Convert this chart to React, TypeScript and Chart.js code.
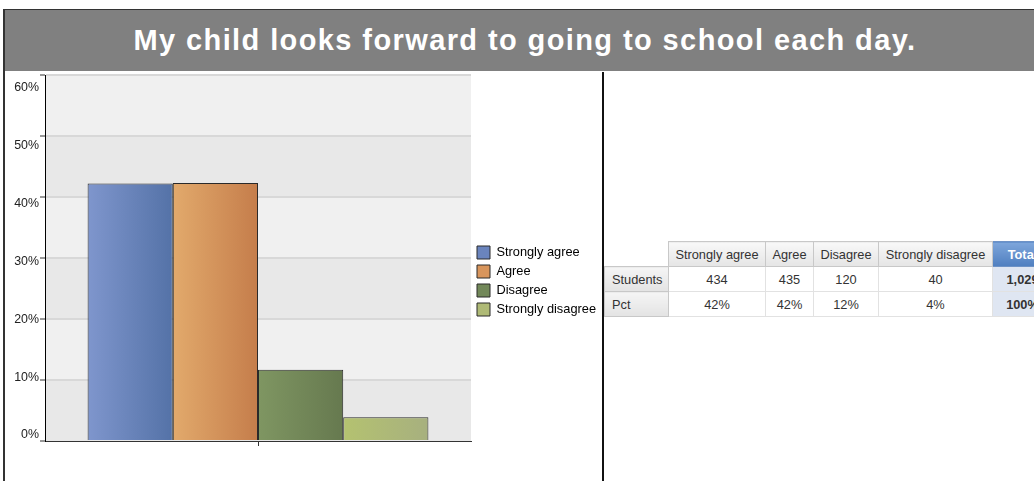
import { useEffect, useRef } from "react";
import { Chart, registerables } from "chart.js";

Chart.register(...registerables);

const title = "My child looks forward to going to school each day.";
const categories = ["Strongly agree", "Agree", "Disagree", "Strongly disagree"];
const pctValues = [42.2, 42.3, 11.7, 3.9];
const studentCounts = ["434", "435", "120", "40"];
const pctLabels = ["42%", "42%", "12%", "4%"];
const totalStudents = "1,029";
const totalPct = "100%";
const yTicks = [0, 10, 20, 30, 40, 50, 60];

// the original draws its % labels a little off the grid lines (below at the top, above at the bottom)
const labelShift = [-6, -2.8, 0.4, 3.5, 6.7, 9.8, 13];

// left / right colour of each bar's gradient, and the flat colour for the legend box
const gradientStops = [
  ["#7f96cd", "#5472a7"],
  ["#e2aa6c", "#c57d4b"],
  ["#7f9662", "#66794f"],
  ["#b4c270", "#a7b07f"],
];
const legendColors = ["#6a84bd", "#d8955c", "#728859", "#afba76"];

const FONT = "Arial, 'Liberation Sans', sans-serif";

const bandsPlugin = {
  id: "bands",
  beforeDraw(chart: any) {
    const { ctx, chartArea } = chart;
    const y = chart.scales.y;
    for (let i = 0; i < yTicks.length - 1; i++) {
      const top = y.getPixelForValue(yTicks[i + 1]);
      const bottom = y.getPixelForValue(yTicks[i]);
      ctx.fillStyle = i % 2 === 0 ? "#e8e8e8" : "#f0f0f0";
      ctx.fillRect(chartArea.left, top, chartArea.right - chartArea.left, bottom - top);
    }
  },
};

const gradientPlugin = {
  id: "barGradient",
  beforeDatasetsDraw(chart: any) {
    const ctx = chart.ctx;
    chart.data.datasets.forEach((_ds: any, di: number) => {
      const meta = chart.getDatasetMeta(di);
      meta.data.forEach((el: any) => {
        const { x, width } = el.getProps(["x", "width"], true);
        const g = ctx.createLinearGradient(x - width / 2, 0, x + width / 2, 0);
        g.addColorStop(0, gradientStops[di][0]);
        g.addColorStop(1, gradientStops[di][1]);
        el.options.backgroundColor = g;
      });
    });
  },
};

const noPadding = (s: any) => {
  s.paddingTop = 0;
  s.paddingBottom = 0;
  s.paddingLeft = 0;
  s.paddingRight = 0;
};

const shiftFor = (v: number) => {
  const k = yTicks.indexOf(v);
  return k < 0 ? 0 : labelShift[k];
};

const BarChart: React.FC = () => {
  const canvasRef = useRef<HTMLCanvasElement | null>(null);
  const chartRef = useRef<Chart | null>(null);

  useEffect(() => {
    if (!canvasRef.current) return;
    chartRef.current = new Chart(canvasRef.current, {
      type: "bar",
      data: {
        labels: [""],
        datasets: categories.map((name, i) => ({
          label: name,
          data: [pctValues[i]],
          backgroundColor: () => legendColors[i],
          borderColor: "#2a2a2a",
          borderWidth: 1,
          categoryPercentage: 0.8,
          barPercentage: 1,
        })),
      },
      options: {
        animation: false,
        responsive: false,
        events: [],
        layout: { padding: { top: 3, left: 0, right: -4, bottom: 0 } },
        scales: {
          x: {
            type: "category",
            grid: { drawOnChartArea: false, offset: false, tickLength: 5, tickColor: "#333" },
            border: { color: "#333" },
            ticks: { display: false },
            afterFit: (s: any) => {
              s.height = 46;
              noPadding(s);
            },
          },
          y: {
            min: 0,
            max: 60,
            ticks: {
              stepSize: 10,
              padding: 1,
              color: "#222",
              callback: (v: any) => {
                const t = v + "%";
                return shiftFor(v) >= 0 ? ["", t] : [t, ""];
              },
              font: (c: any) => ({
                family: FONT,
                size: 12.4,
                lineHeight: Math.max(Math.abs(shiftFor(c.tick ? c.tick.value : 0)) * 2, 0.2) + "px",
              }),
            },
            grid: {
              color: (c: any) => (c.tick && c.tick.value === 0 ? "rgba(0,0,0,0)" : "#d8d8d8"),
              lineWidth: 2,
              tickColor: "#333",
              tickWidth: 1,
              tickLength: 5,
            },
            border: { color: "#000", width: 1 },
            afterFit: (s: any) => {
              s.width = 40;
              noPadding(s);
            },
          },
        },
        plugins: {
          legend: {
            position: "right",
            align: "center",
            labels: {
              boxWidth: 13,
              boxHeight: 13,
              padding: 6,
              color: "#000",
              font: { family: FONT, size: 12.8 },
            },
          },
          tooltip: { enabled: false },
        },
      } as any,
      plugins: [bandsPlugin, gradientPlugin],
    });

    return () => {
      if (chartRef.current) {
        chartRef.current.destroy();
        chartRef.current = null;
      }
    };
  }, []);

  return <canvas ref={canvasRef} width={597} height={415} style={{ width: 597, height: 415, display: "block" }} />;
};

const headCell: React.CSSProperties = {
  background: "linear-gradient(#f8f8f8, #e5e5e5)",
  border: "1px solid #c8c8c8",
  fontWeight: "normal",
  textAlign: "center",
  padding: 0,
  height: 24,
};
const rowHead: React.CSSProperties = {
  background: "linear-gradient(#f5f5f5, #e3e3e3)",
  border: "1px solid #c8c8c8",
  fontWeight: "normal",
  textAlign: "left",
  padding: "0 0 0 7px",
  height: 24,
};
const dataCell: React.CSSProperties = {
  border: "1px solid #e2e2e2",
  textAlign: "center",
  padding: 0,
  height: 24,
};
const totalHead: React.CSSProperties = {
  ...headCell,
  background: "linear-gradient(#7ea6db, #4f7fc0)",
  border: "1px solid #6d92c6",
  color: "#fff",
  fontWeight: "bold",
};
const totalCell: React.CSSProperties = {
  ...dataCell,
  background: "#dfe6f2",
  fontWeight: "bold",
};

const colWidths = [64, 97, 48, 65, 114, 60];

const App: React.FC = () => {
  return (
    <div style={{ position: "fixed", left: 0, top: 0, width: 1034, height: 481, overflow: "hidden", background: "#fff", fontFamily: FONT }}>
      <div
        style={{
          position: "absolute",
          left: 3,
          top: 9,
          width: 1040,
          height: 480,
          borderLeft: "2px solid #333",
          borderTop: "1px solid #333",
        }}
      >
        <div
          style={{
            height: 61,
            background: "#808080",
            color: "#fff",
            fontWeight: "bold",
            fontSize: 29,
            letterSpacing: 1.4,
            lineHeight: "61px",
            textAlign: "center",
            whiteSpace: "nowrap",
          }}
        >
          {title}
        </div>
        <div style={{ position: "absolute", left: 0, top: 62, width: 597, height: 420, borderRight: "2px solid #111", overflow: "hidden" }}>
          <BarChart />
        </div>
        <table
          style={{
            position: "absolute",
            left: 599,
            top: 231,
            borderCollapse: "collapse",
            tableLayout: "fixed",
            width: colWidths.reduce((a, b) => a + b, 0),
            fontSize: 12.8,
            color: "#333",
            fontFamily: FONT,
          }}
        >
          <colgroup>
            {colWidths.map((w, i) => (
              <col key={i} style={{ width: w }} />
            ))}
          </colgroup>
          <thead>
            <tr>
              <th style={{ padding: 0, border: "none" }} />
              {categories.map((c) => (
                <th key={c} style={headCell}>
                  {c}
                </th>
              ))}
              <th style={totalHead}>Total</th>
            </tr>
          </thead>
          <tbody>
            <tr>
              <th style={rowHead}>Students</th>
              {studentCounts.map((v, i) => (
                <td key={i} style={dataCell}>
                  {v}
                </td>
              ))}
              <td style={totalCell}>{totalStudents}</td>
            </tr>
            <tr>
              <th style={rowHead}>Pct</th>
              {pctLabels.map((v, i) => (
                <td key={i} style={dataCell}>
                  {v}
                </td>
              ))}
              <td style={totalCell}>{totalPct}</td>
            </tr>
          </tbody>
        </table>
      </div>
    </div>
  );
};

export default App;
